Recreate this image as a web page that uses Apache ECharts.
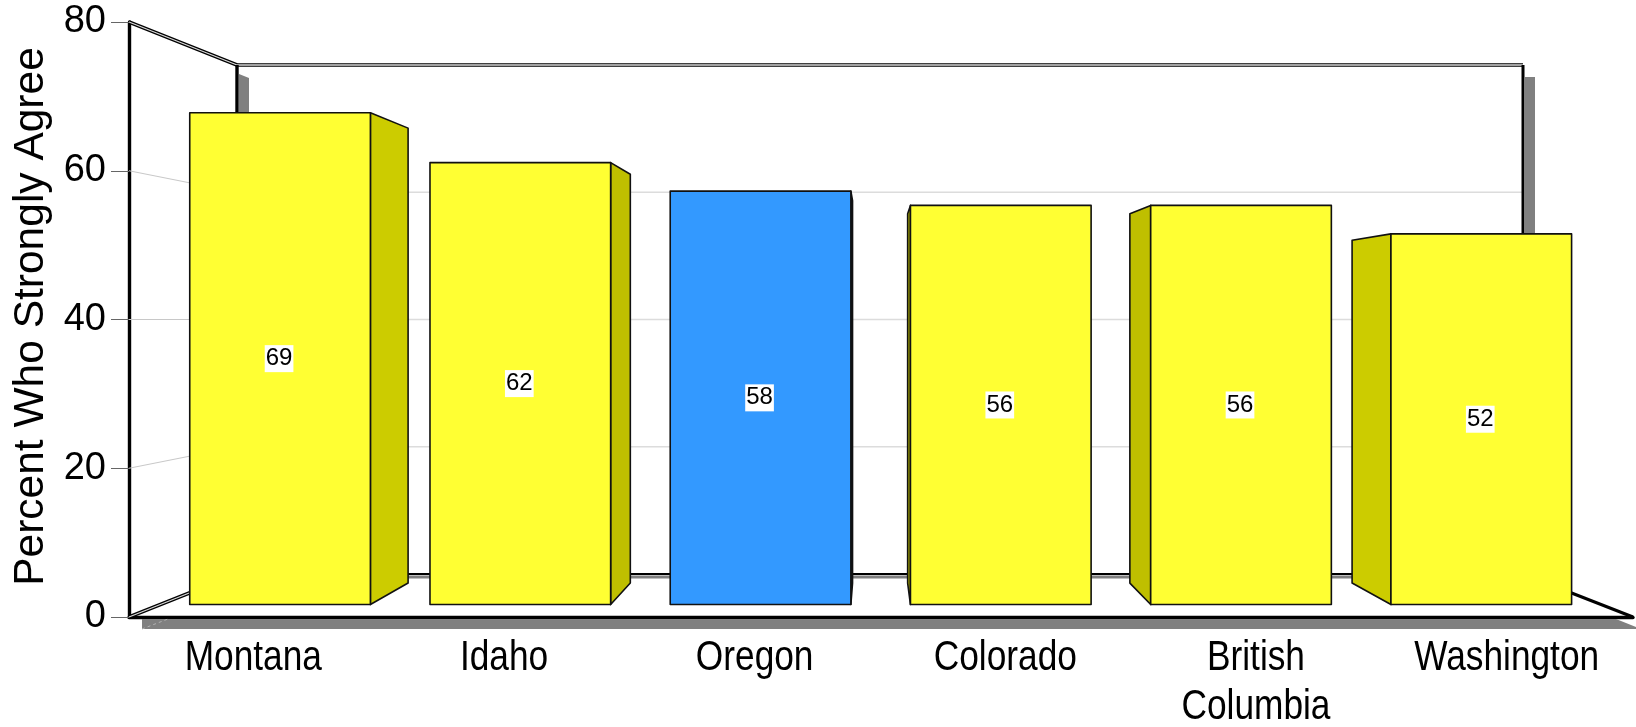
<!DOCTYPE html>
<html>
<head>
<meta charset="utf-8">
<title>Percent Who Strongly Agree</title>
<style>
  html, body { margin: 0; padding: 0; background: #fff; }
  #chart { width: 1636px; height: 727px; }
</style>
<script src="https://cdn.jsdelivr.net/npm/echarts@6/dist/echarts.min.js"></script>
</head>
<body>
<div id="chart"></div>
<script>
// Survey results by state or province
const categories = ['Montana', 'Idaho', 'Oregon', 'Colorado', 'British\nColumbia', 'Washington'];
const values = [69, 62, 58, 56, 56, 52];
const yTicks = [0, 20, 40, 60, 80];
const highlighted = 'Oregon';

// Plot frame: the front plane is the grid, the back wall sits further away
const front = { left: 129, top: 22, width: 1504, height: 595, outerBoundsMode: 'none' };
const wall = { left: 237, right: 1523, top: 65, bottom: 574 };

// Perspective of the bars: vanishing point and depth factors of their faces
const vanish = { x: 873, y: 318 };
const faceDepth = 0.9584;
const rearDepth = 0.9584 * 0.925;
const barShare = 0.752;

const sideColors = ['#CCCC00', '#BFBF00', '#004C99', '#BFBF00', '#BFBF00', '#CCCC00'];
const edge = { stroke: '#111', lineWidth: 1.6, lineJoin: 'round' };
const SHADOW = '#808080';

function project(x, y, depth) {
  return [vanish.x + depth * (x - vanish.x), vanish.y + depth * (y - vanish.y)];
}

function line(x1, y1, x2, y2, stroke, lineWidth, extra) {
  return {
    type: 'line',
    shape: { x1, y1, x2, y2 },
    style: Object.assign({ stroke, lineWidth }, extra || {}),
    silent: true
  };
}

function poly(points, style) {
  return { type: 'polygon', shape: { points }, style, silent: true };
}

// Shadows cast behind the wall and below the floor
function renderShadows() {
  const floorY = front.top + front.height;
  return {
    type: 'group',
    children: [
      poly([[wall.left + 2, wall.top + 9], [wall.left + 12, wall.top + 13], [wall.left + 12, wall.bottom], [wall.left + 2, wall.bottom]], { fill: SHADOW }),
      poly([[wall.right + 2, wall.top + 12], [wall.right + 12, wall.top + 12], [wall.right + 12, wall.bottom], [wall.right + 2, wall.bottom]], { fill: SHADOW }),
      poly([[142, floorY + 2], [1616, floorY + 2], [1636, floorY + 10], [1636, floorY + 12], [142, floorY + 12]], { fill: SHADOW }),
      line(142, floorY + 12, 168, floorY + 2, '#b0b0b0', 1, { lineDash: [3, 3] }),
      line(wall.left, wall.bottom + 3, wall.right, wall.bottom + 3, SHADOW, 3)
    ]
  };
}

// One gridline per tick: across the side wall, then along the back wall
function renderGridline(params, api) {
  const v = api.value(0);
  if (v === 0 || v === 80) return { type: 'group', children: [] };
  const p = api.coord([0, v]);
  const share = v / 80;
  const backY = wall.bottom + share * (wall.top - wall.bottom);
  return {
    type: 'group',
    children: [
      line(front.left, p[1], wall.left, backY, '#c8c8c8', 1),
      line(wall.left, backY, wall.right, backY, '#dcdcdc', 1.6)
    ]
  };
}

// Wall outline and the floor edges
function renderFrame() {
  const floorY = front.top + front.height;
  const dbl = (x1, y1, x2, y2) => [
    line(x1, y1, x2, y2, '#000', 3.6),
    line(x1, y1, x2, y2, '#d8d8d8', 1.3)
  ];
  return {
    type: 'group',
    children: [].concat(
      dbl(front.left, front.top, wall.left, wall.top),
      dbl(front.left, floorY, wall.left, wall.bottom),
      dbl(wall.left, wall.top, wall.right, wall.top),
      [
        line(wall.left, wall.bottom, wall.right, wall.bottom, '#000', 2),
        line(wall.left, wall.top, wall.left, wall.bottom, '#000', 3.4),
        line(wall.right, wall.top, wall.right, wall.bottom, '#000', 3),
        line(wall.right, wall.bottom, front.left + front.width, floorY, '#000', 3)
      ]
    )
  };
}

// A bar: front face, visible side face and its value label
function renderBar(params, api) {
  const i = api.value(0);
  const v = api.value(1);
  const base = api.coord([i, 0]);
  const top = api.coord([i, v]);
  const half = api.size([1, 0])[0] * barShare / 2;
  const xL = base[0] - half, xR = base[0] + half;

  const fl = project(xL, base[1], faceDepth), ft = project(xL, top[1], faceDepth);
  const fr = project(xR, base[1], faceDepth), frt = project(xR, top[1], faceDepth);

  // The face looking towards the vanishing point is the one that shows
  const sideX = fr[0] < vanish.x ? xR : xL;
  const nb = project(sideX, base[1], faceDepth), nt = project(sideX, top[1], faceDepth);
  const rb = project(sideX, base[1], rearDepth), rt = project(sideX, top[1], rearDepth);

  const mid = project(base[0], (base[1] + top[1]) / 2, faceDepth);
  const isHighlight = categories[i] === highlighted;

  return {
    type: 'group',
    children: [
      poly([nb, nt, rt, rb], Object.assign({ fill: sideColors[i] }, edge)),
      poly([fl, ft, frt, fr], Object.assign({ fill: isHighlight ? '#3399FF' : '#FFFF33' }, edge)),
      {
        type: 'text',
        x: mid[0] - 1,
        y: mid[1],
        silent: true,
        style: {
          text: String(v),
          fill: '#000',
          font: '24px "Liberation Sans", Arial, sans-serif',
          align: 'center',
          verticalAlign: 'middle',
          backgroundColor: '#fff',
          padding: [2, 1, 1, 1]
        }
      }
    ]
  };
}

// Category names in a condensed cut, set under each band of the grid
function renderCategoryLabel(params, api) {
  const i = api.value(0);
  const p = api.coord([i, 0]);
  return {
    type: 'text',
    x: p[0] - 1,
    y: p[1] + 17,
    scaleX: 0.82,
    silent: true,
    style: {
      text: categories[i],
      fill: '#000',
      font: '43px "Liberation Sans", Arial, sans-serif',
      lineHeight: 49,
      align: 'center',
      verticalAlign: 'top'
    }
  };
}

const chart = echarts.init(document.getElementById('chart'), null, { renderer: 'canvas' });
chart.setOption({
  animation: false,
  backgroundColor: '#fff',
  grid: front,
  tooltip: { show: false },
  xAxis: {
    type: 'category',
    data: categories,
    axisLine: { lineStyle: { color: '#000', width: 3.4 } },
    axisTick: { show: false },
    axisLabel: { show: false }
  },
  yAxis: {
    type: 'value',
    min: 0,
    max: 80,
    interval: 20,
    name: 'Percent Who Strongly Agree',
    nameLocation: 'middle',
    nameGap: 63,
    nameRotate: 90,
    nameTextStyle: {
      color: '#000',
      fontFamily: '"Liberation Sans", Arial, sans-serif',
      fontSize: 42.5,
      padding: [0, 0, 0, 6]
    },
    axisLine: { show: true, lineStyle: { color: '#000', width: 3.4 } },
    axisTick: { show: true, length: 18, lineStyle: { color: '#666', width: 1 } },
    axisLabel: {
      margin: 23,
      color: '#000',
      fontFamily: '"Liberation Sans", Arial, sans-serif',
      fontSize: 38,
      padding: [4, 0, 0, 0],
      customValues: yTicks
    },
    splitLine: { show: false }
  },
  series: [
    { type: 'custom', name: 'shadows', z: 1, silent: true, data: [0], encode: { x: 0, y: 0 }, renderItem: renderShadows },
    { type: 'custom', name: 'gridlines', z: 2, silent: true, data: yTicks.map(v => [v]), encode: { y: 0 }, renderItem: renderGridline },
    { type: 'custom', name: 'frame', z: 3, silent: true, data: [0], encode: { x: 0, y: 0 }, renderItem: renderFrame },
    { type: 'custom', name: 'Strongly agree', z: 4, data: values.map((v, i) => [i, v]), encode: { x: 0, y: 1 }, renderItem: renderBar },
    { type: 'custom', name: 'category labels', z: 5, silent: true, data: categories.map((c, i) => [i]), encode: { x: 0 }, renderItem: renderCategoryLabel }
  ]
});
</script>
</body>
</html>
